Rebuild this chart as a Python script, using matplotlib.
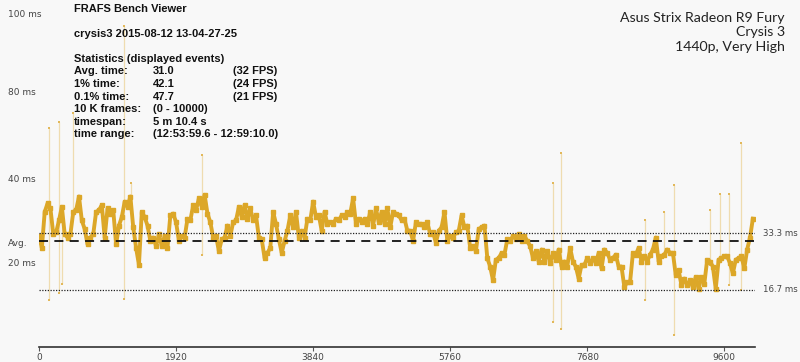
import matplotlib
matplotlib.use("Agg")
import matplotlib.pyplot as plt
import numpy as np

# ---------------- data ----------------
frame_step = 40
frame_ms = [
    32.5, 29, 39.5, 42, 40.5, 33, 33.5, 37, 41, 33,
    32, 33, 39.5, 40, 44, 37, 34.5, 30, 32, 33,
    39.5, 40, 41.5, 32, 40.5, 39, 40, 30, 35.5, 38,
    42.5, 41, 44, 35, 29, 24, 39.5, 38, 35.5, 31,
    32, 29.5, 33, 29.5, 32.5, 29, 38.5, 39, 36.5, 31,
    32.5, 32, 37.5, 37, 41.5, 40, 43.5, 41, 44.5, 39,
    36.5, 32, 32.5, 28, 31.5, 32, 35.5, 32.5, 36.5, 37,
    41, 38, 41.5, 37.5, 40.5, 37, 38.5, 32, 31.5, 26,
    27.5, 29, 39.5, 36, 31.5, 27.5, 31, 34, 38.5, 35,
    39.5, 32, 34, 32, 37.5, 37, 42.5, 38, 38.5, 34,
    39.5, 36, 36.5, 36, 37.5, 37, 38.5, 38, 39.5, 39,
    43.5, 36, 37.5, 36.5, 37.5, 36, 39.5, 35.5, 40.5, 36.5,
    39.5, 36, 40.5, 35, 39.5, 39, 38.5, 37, 37.5, 34,
    34, 31, 36.5, 36, 36, 35, 36.5, 33, 33.5, 30.5,
    34, 35, 39.5, 31, 32.5, 32, 33.5, 34, 38.5, 35,
    35.5, 29, 29.5, 28, 34.5, 35, 35.5, 26, 23.5, 19.5,
    25.5, 26, 27.5, 27, 31.5, 31, 32.5, 31.5, 33, 31,
    32.5, 31, 29.5, 26, 28, 25, 28.5, 25, 28, 24.5,
    27.5, 25.5, 28.5, 23.5, 25, 23.5, 29, 25, 23.5, 20,
    24, 24, 26, 24.5, 26, 24.5, 27.5, 23, 28.5, 27.5,
    25.5, 26, 27, 23.5, 23.5, 17.5, 19, 19, 27.5, 27,
    29, 25, 26.5, 25, 27, 28.5, 32, 25, 26.5, 27,
    28.5, 27.5, 27.5, 21, 22.5, 18, 20, 18, 19.5, 17.5,
    20.5, 17, 20.5, 18.5, 25.5, 25, 23.5, 17, 25.5, 26,
    26.5, 26.5, 24.5, 21.5, 25.5, 26, 26.5, 23, 28.5, 32,
    37.5,
]
spike_frame = [144, 276, 322, 472, 1186, 1288, 2282, 7196, 7308, 8484, 8750, 8890, 9394, 9534, 9660, 9828]
spike_top   = [64, 65.8, 38, 68.4, 94, 48, 56, 48, 56.7, 37, 39.5, 47.4, 40, 44.7, 44.7, 59.6]
spike_low   = [13.7, 15.8, 18.4, 38, 14, 40, 27, 7.3, 5.3, 13.7, 27, 3.5, 24, 25, 18, 16.7]

avg_ms = 31.0
ref_lines = [33.3, 16.7]
ref_labels = ["33.3 ms", "16.7 ms"]

ytick_pos = [97.4, 74.6, 49.4, 30.7, 24.6]
ytick_labels = ["100 ms", "80 ms", "40 ms", "Avg.", "20 ms"]
xtick_pos = [0, 1920, 3840, 5760, 7680, 9600]

stats_rows = [
    ("Avg. time:", "31.0", "(32 FPS)"),
    ("1% time:", "42.1", "(24 FPS)"),
    ("0.1% time:", "47.7", "(21 FPS)"),
    ("10 K frames:", "(0 - 10000)", ""),
    ("timespan:", "5 m 10.4 s", ""),
    ("time range:", "(12:53:59.6 - 12:59:10.0)", ""),
]
info_lines = ["Asus Strix Radeon R9 Fury", "Crysis 3", "1440p, Very High"]

# ---------------- figure ----------------
W, H = 800, 362
fig = plt.figure(figsize=(W / 100, H / 100), dpi=100)
bg = "#f8f8f8"
fig.patch.set_facecolor(bg)

ax_l, ax_r, ax_b, ax_t = 39, 755, 347, 5
ax = fig.add_axes([ax_l / W, (H - ax_b) / H, (ax_r - ax_l) / W, (ax_b - ax_t) / H])
ax.set_facecolor(bg)
ax.set_xlim(0, 10030)
ax.set_ylim(0, 100)

gold = "#dca728"
light = "#efdcb0"

frames = np.arange(len(frame_ms)) * frame_step

# spikes
ax.vlines(spike_frame, spike_low, spike_top, color=light, lw=0.9, zorder=2)
ax.scatter(spike_frame, spike_top, s=3, marker="s", color="#e2b85a", lw=0, zorder=3)
ax.scatter(spike_frame, spike_low, s=3, marker="s", color="#e2b85a", lw=0, zorder=3)

# main trace
ax.plot(frames, frame_ms, color=gold, lw=2.8, zorder=4)
ax.plot(frames, frame_ms, color=gold, lw=0, marker="s", ms=3.2, zorder=4)

# reference lines
for v in ref_lines:
    ax.axhline(v, color="#222222", lw=0.9, ls=(0, (1, 1.2)), zorder=5)
ax.axhline(avg_ms, color="#111111", lw=1.3, ls=(0, (5, 3.5)), zorder=5)
for v, lab in zip(ref_lines, ref_labels):
    ax.text(1.011, v, lab, transform=ax.get_yaxis_transform(), fontsize=6.2,
            color="#444444", va="center", ha="left", clip_on=False,
            family="DejaVu Sans")

# axes styling
for s in ["left", "right", "top"]:
    ax.spines[s].set_visible(False)
ax.spines["bottom"].set_color("#333333")
ax.spines["bottom"].set_linewidth(1.2)
ax.set_xticks(xtick_pos)
ax.set_xticklabels([str(v) for v in xtick_pos])
ax.tick_params(axis="x", length=3, width=0.8, color="#555555", labelsize=6.5,
               labelcolor="#444444", pad=1)
ax.set_yticks(ytick_pos)
ax.set_yticklabels(ytick_labels)
ax.tick_params(axis="y", length=0, labelsize=6.5, labelcolor="#444444", pad=22.3)
for t in ax.get_yticklabels():
    t.set_horizontalalignment("left")

# stats text block
fnt = dict(family="Liberation Sans", fontweight="bold", fontsize=8, color="#111111",
           va="center")
def fy(y):
    return 1 - y / H
fig.text(74 / W, fy(9.5), "FRAFS Bench Viewer", **fnt)
fig.text(74 / W, fy(34), "crysis3 2015-08-12 13-04-27-25", **fnt)
fig.text(74 / W, fy(59), "Statistics (displayed events)", **fnt)
for i, (a, b, c) in enumerate(stats_rows):
    y = 71.5 + i * 12.5
    fig.text(74 / W, fy(y), a, **fnt)
    fig.text(153 / W, fy(y), b, **fnt)
    if c:
        fig.text(233 / W, fy(y), c, **fnt)

# info text top-right
for i, line in enumerate(info_lines):
    fig.text(785 / W, fy(18 + i * 14.5), line, ha="right", va="center",
             family="Lato", fontsize=10.2, color="#222222")

fig.savefig("out.png", dpi=100, facecolor=bg)
